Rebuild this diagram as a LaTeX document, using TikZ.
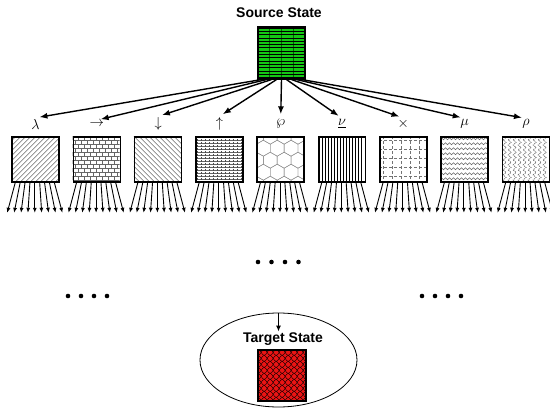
\documentclass[tikz,border=0pt]{standalone}
\usepackage{amsmath,amssymb}
\usepackage{fontspec}
\setsansfont{Liberation Sans}
\usepackage{tikz}
\usetikzlibrary{arrows.meta, backgrounds, calc, decorations.pathmorphing,
    positioning, shapes.geometric}

\definecolor{srcgreen}{RGB}{20,200,20}
\definecolor{tgtred}{RGB}{235,20,20}

\tikzset{
  statebox/.style={draw, line width=1.6pt, minimum width=47pt,
    minimum height=45pt, inner sep=0pt},
  title/.style={font=\sffamily\bfseries\fontsize{14}{16}\selectfont},
  op/.style={font=\fontsize{15}{17}\selectfont, inner sep=1pt},
  arr/.style={-{Latex[length=8pt,width=6pt]}, line width=1.4pt, shorten >=4pt},
  fan/.style={-{Latex[length=5pt,width=4pt]}, line width=0.9pt},
  hatch/.style={line width=0.4pt, black!80}
}

\begin{document}
\begin{tikzpicture}[x=1pt,y=-1pt]
  \useasboundingbox (0,0) rectangle (550,410);

  % source and target
  \node[title] (srctxt) at (279,13) {Source State};
  \node[statebox, line width=1.2pt, minimum height=52pt] (src) at (281.5,53) {};
  \node[draw, ellipse, line width=0.8pt, minimum width=157pt,
    minimum height=94pt] (goal) at (278.5,360) {};
  \node[title] (tgttxt) at (283,339) {Target State};
  \node[statebox, line width=1.2pt, minimum width=48pt, minimum height=51pt] (tgt) at (282,375.5) {};
  \coordinate (tin) at ($(goal.north)+(0,19)$);
  \draw[-{Latex[length=6pt,width=5pt]}, line width=1.3pt] (goal.north) -- (tin);

  % operators and their boxes
  \foreach \lab [count=\i] in {\lambda,\rightarrow,\downarrow,\uparrow,\wp,
      \underline{\nu},\times,\mu,\rho} {
    \node[op] (l\i) at ({35.5+61.3*(\i-1)},124) {$\lab$};
    \node[statebox] (b\i) at ({35.5+61.3*(\i-1)},159.5) {};
  }

  \foreach \i in {1,...,9}
    \draw[arr] ($(src.south west)!{0.08+0.84*(\i-1)/8}!(src.south east)$) -- (l\i.north);

  \foreach \i in {1,...,9}
    \foreach \k in {0,...,8}
      \draw[fan] ($(b\i.south west)+({4+4.9*\k},0)$) -- ($(b\i.south west)+({-4+6.9*\k},30)$);

  % dots
  \foreach \x in {258,271.5,285,298.5} \fill (\x,262) circle (2.3pt);
  \foreach \x in {68,81,94,107} \fill (\x,296) circle (2.3pt);
  \foreach \x in {422,435,448,461} \fill (\x,296) circle (2.3pt);

  % fillings
  \begin{scope}[on background layer]
    \begin{scope}[shift={(src.north west)}]
      \clip (0,0) rectangle (47,52);
      \fill[srcgreen] (0,0) rectangle (47,52);
      \foreach \x in {12,24,36} \draw[green!40!black, line width=0.3pt] (\x,0) -- (\x,52);
      \foreach \y in {1.5,4.8,...,52} \draw[line width=0.6pt] (0,\y) -- (47,\y);
    \end{scope}
    \begin{scope}[shift={(tgt.north west)}]
      \clip (0,0) rectangle (48,51);
      \fill[tgtred] (0,0) rectangle (48,51);
      \foreach \y in {3,9,...,54} {
        \draw[line width=0.4pt, decorate, decoration={snake, segment length=12pt, amplitude=3pt}] (-3,\y) -- (54,\y);
        \draw[line width=0.4pt, decorate, decoration={snake, segment length=12pt, amplitude=3pt, mirror}] (-3,\y) -- (54,\y);
      }
    \end{scope}
    \begin{scope}[shift={(b1.north west)}]
      \clip (0,0) rectangle (47,45);
      \foreach \s in {-50,-45,...,50} \draw[hatch] (\s,45) -- ++(45,-45);
    \end{scope}
    \begin{scope}[shift={(b2.north west)}]
      \clip (0,0) rectangle (47,45);
      \foreach \y in {0,4,...,44} {
        \draw[hatch, black!60] (0,\y) -- (47,\y);
        \foreach \x in {0,6,...,48}
          \draw[hatch, black!60] ({\x+3*mod(\y/4,2)},\y) -- ++(0,4);
      }
    \end{scope}
    \begin{scope}[shift={(b3.north west)}]
      \clip (0,0) rectangle (47,45);
      \foreach \s in {-50,-45,...,50} \draw[hatch] (\s,0) -- ++(45,45);
    \end{scope}
    \begin{scope}[shift={(b4.north west)}]
      \clip (0,0) rectangle (47,45);
      \foreach \y in {1.5,4.5,...,45} \draw[black!60, line width=0.5pt] (0,\y) -- (47,\y);
      \foreach \x in {2,6,...,46} \draw[black!70, line width=0.5pt, dash pattern=on 1.5pt off 1.5pt] (\x,0) -- (\x,45);
    \end{scope}
    \begin{scope}[shift={(b5.north west)}]
      \clip (0,0) rectangle (47,45);
      \foreach \r in {0,...,5}
        \foreach \c in {-1,...,3}
          \draw[black!45, line width=0.4pt] ({13.86*\c+6.93*mod(\r,2)},{12*\r})
            +(90:8) -- +(30:8) -- +(-30:8) -- +(-90:8) -- +(-150:8) -- +(150:8) -- cycle;
    \end{scope}
    \begin{scope}[shift={(b6.north west)}]
      \clip (0,0) rectangle (47,45);
      \foreach \x in {2,5,...,46} \draw[line width=0.6pt] (\x,0) -- (\x,45);
    \end{scope}
    \begin{scope}[shift={(b7.north west)}]
      \clip (0,0) rectangle (47,45);
      \foreach \v in {4.5,13.5,...,45} {
        \draw[black!55, line width=0.5pt, dash pattern=on 3pt off 2pt] (\v,0) -- (\v,45);
        \draw[black!55, line width=0.5pt, dash pattern=on 3pt off 2pt] (0,\v) -- (47,\v);
      }
    \end{scope}
    \begin{scope}[shift={(b8.north west)}]
      \clip (0,0) rectangle (47,45);
      \foreach \y in {2.5,7.5,...,45}
        \draw[black!60, line width=0.5pt, decorate, decoration={snake, segment length=4pt, amplitude=1pt}] (0,\y) -- (47,\y);
    \end{scope}
    \begin{scope}[shift={(b9.north west)}]
      \clip (0,0) rectangle (47,45);
      \foreach \x in {3,8,...,46}
        \draw[black!60, line width=0.7pt, dash pattern=on 1.2pt off 1pt, decorate, decoration={zigzag, segment length=5pt, amplitude=1.5pt}] (\x,0) -- (\x,45);
    \end{scope}
  \end{scope}

\end{tikzpicture}
\end{document}
